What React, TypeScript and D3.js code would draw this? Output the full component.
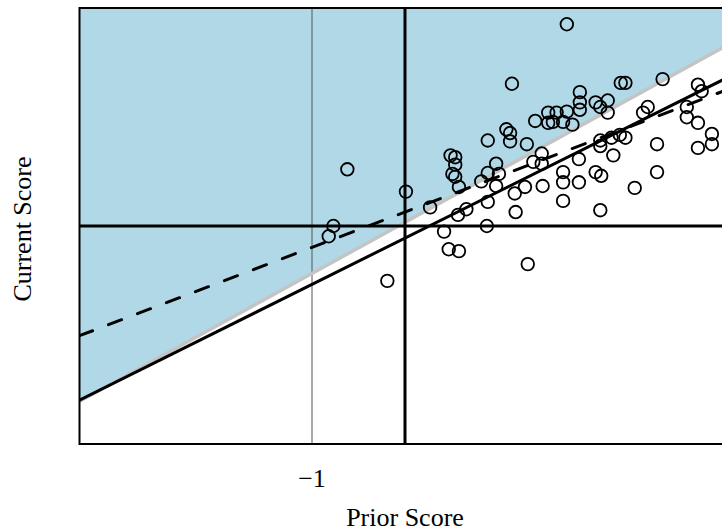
import React from "react";
import * as d3 from "d3";

const priorScore = [
  -0.62, -0.77, -0.82, -0.19, 0.01, 0.27, 0.42, 0.47, 0.58, 0.57, 0.66, 0.49, 0.54, 0.54, 0.51, 0.54,
  0.58, 0.82, 0.89, 0.89, 0.98, 1.01, 0.98, 0.89, 0.88, 1.18, 1.19, 1.09, 1.13, 1.13, 1.15, 1.29,
  1.31, 1.38, 1.32, 1.4, 1.47, 1.47, 1.48, 1.54, 1.63, 1.74, 1.54, 1.59, 1.7, 1.8, 1.74, 1.88,
  1.88, 1.88, 1.87, 1.87, 1.7, 1.7, 1.7, 2.05, 2.1, 2.18, 2.18, 2.32, 2.37, 2.77, 3.15, 3.19,
  2.61, 2.56, 3.03, 3.03, 3.15, 3.3, 3.3, 3.15, 2.71, 2.71, 2.47, 2.37, 2.31, 2.22, 2.1, 2.1,
  2.24, 2.05, 2.11, 2.1,
];
const currentScore = [
  0.61, 0.0, -0.11, -0.59, 0.37, 0.2, -0.06, -0.25, -0.27, 0.12, 0.18, 0.76, 0.74, 0.66, 0.56, 0.53,
  0.42, 0.48, 0.92, 0.57, 0.67, 0.56, 0.43, 0.26, 0.0, 0.35, 0.15, 1.04, 1.0, 0.91, 1.53, 0.42,
  0.88, 0.69, -0.41, 1.13, 0.78, 0.67, 0.43, 1.22, 1.22, 1.23, 1.11, 1.12, 1.12, 1.09, 2.17, 1.44,
  1.33, 1.25, 0.72, 0.47, 0.58, 0.47, 0.27, 1.33, 1.28, 1.35, 1.22, 1.54, 1.54, 1.58, 1.52, 1.45,
  1.28, 1.22, 1.28, 1.17, 1.11, 0.99, 0.88, 0.84, 0.88, 0.58, 0.41, 0.95, 0.98, 0.95, 0.92, 0.86,
  0.76, 0.58, 0.54, 0.17,
];

// reference lines: [intercept, slope]
const boundaryLine = [0.04, 0.55];
const fitLine = [-0.13, 0.498];
const dashedLine = [0.15, 0.38];
const xTicks = [-1];
const xDomain = [-3.5, 3.5];
const yDomain = [-2.345, 2.345];

export default function App() {
  const W = 722;
  const H = 531;
  const x = d3.scaleLinear().domain(xDomain).range([79.5, 730.5]);
  const y = d3.scaleLinear().domain(yDomain).range([444, 8]);
  const [x0, x1] = xDomain;
  const [y0, y1] = yDomain;

  const seg = (p: number[]) =>
    d3.line<number>()
      .x((d) => x(d))
      .y((d) => y(p[0] + p[1] * d))([x0, x1]) as string;

  const fill = `M${x(x0)},${y(boundaryLine[0] + boundaryLine[1] * x0)}L${x(x1)},${y(
    boundaryLine[0] + boundaryLine[1] * x1
  )}L${x(x1)},${y(y1)}L${x(x0)},${y(y1)}Z`;

  return (
    <svg
      width={W}
      height={H}
      style={{ position: "absolute", left: 0, top: 0 }}
      fontFamily="'Liberation Serif', 'Times New Roman', serif"
    >
      <defs>
        <clipPath id="plot">
          <rect x={x(x0)} y={y(y1)} width={x(x1) - x(x0)} height={y(y0) - y(y1)} />
        </clipPath>
      </defs>
      <rect x={x(x0)} y={y(y1)} width={x(x1) - x(x0)} height={y(y0) - y(y1)} fill="white" />
      <g clipPath="url(#plot)">
        <path d={fill} fill="#b1d8e6" />
        <line x1={x(-1)} x2={x(-1)} y1={y(y0)} y2={y(y1)} stroke="#555" strokeWidth={1} />
        <path d={seg(boundaryLine)} stroke="#c4c4c4" strokeWidth={3.5} fill="none" />
        <path d={seg(fitLine)} stroke="black" strokeWidth={3} fill="none" />
        <path
          d={seg(dashedLine)}
          stroke="black"
          strokeWidth={3}
          fill="none"
          strokeDasharray="14 17"
          strokeLinecap="round"
        />
        <line x1={x(0)} x2={x(0)} y1={y(y0)} y2={y(y1)} stroke="black" strokeWidth={3} />
        <line x1={x(x0)} x2={x(x1)} y1={y(0)} y2={y(0)} stroke="black" strokeWidth={3} />
        {priorScore.map((px, i) => (
          <circle
            key={i}
            cx={x(px)}
            cy={y(currentScore[i])}
            r={6.3}
            fill="none"
            stroke="black"
            strokeWidth={1.8}
          />
        ))}
      </g>
      <rect
        x={x(x0)}
        y={y(y1)}
        width={x(x1) - x(x0)}
        height={y(y0) - y(y1)}
        fill="none"
        stroke="black"
        strokeWidth={2}
      />
      {xTicks.map((t) => (
        <text key={t} x={x(t)} y={487} textAnchor="middle" fontSize={26}>
          {"\u2212" + Math.abs(t)}
        </text>
      ))}
      <text x={(x(x0) + x(x1)) / 2} y={526} textAnchor="middle" fontSize={26}>
        Prior Score
      </text>
      <text transform={`translate(31, 229) rotate(-90)`} textAnchor="middle" fontSize={26}>
        Current Score
      </text>
    </svg>
  );
}
